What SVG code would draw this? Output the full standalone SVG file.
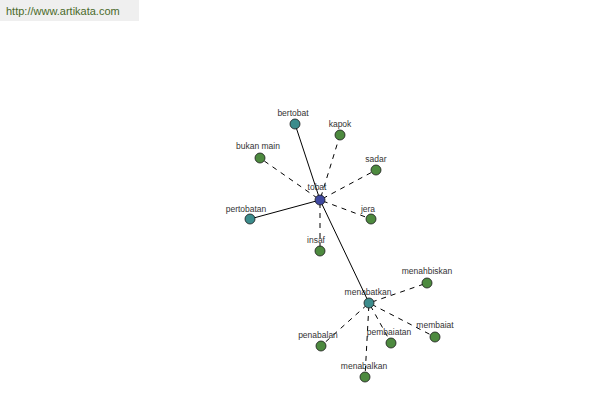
<svg xmlns="http://www.w3.org/2000/svg" width="600" height="400" viewBox="0 0 600 400">
<style>
.e{stroke:#000;stroke-width:1;fill:none}
.d{stroke-dasharray:5 5;stroke-dashoffset:-3}
.n{stroke:#1a1a1a;stroke-width:0.8}
.b{fill:#3e48a0}
.t{fill:#3c8c8c}
.g{fill:#4d8a3f}
text{font-family:"Liberation Sans",Arial,sans-serif;font-size:8.5px;fill:#333;text-anchor:middle}
</style>
<rect x="0" y="0" width="139" height="21" fill="#efefef"/>
<text x="6" y="15" style="text-anchor:start;font-size:11px;fill:#4a6a2a">http://www.artikata.com</text>
<g id="connectors">
<line class="e" x1="320" y1="200" x2="295" y2="124"/>
<line class="e" x1="320" y1="200" x2="250" y2="219"/>
<line class="e" x1="320" y1="200" x2="369" y2="303"/>
<line class="e d" x1="320" y1="200" x2="340" y2="135"/>
<line class="e d" x1="320" y1="200" x2="260" y2="158"/>
<line class="e d" x1="320" y1="200" x2="376" y2="170"/>
<line class="e d" x1="320" y1="200" x2="371" y2="219"/>
<line class="e d" x1="320" y1="200" x2="320" y2="251"/>
<line class="e d" x1="369" y1="303" x2="427" y2="283"/>
<line class="e d" x1="369" y1="303" x2="321" y2="346"/>
<line class="e d" x1="369" y1="303" x2="391" y2="343"/>
<line class="e d" x1="369" y1="303" x2="435" y2="337"/>
<line class="e d" x1="369" y1="303" x2="365" y2="377"/>
</g>
<g id="tobat"><circle class="n b" cx="320" cy="200" r="5"/><text x="317" y="190">tobat</text></g>
<g id="bertobat"><circle class="n t" cx="295" cy="124" r="5"/><text x="293" y="116">bertobat</text></g>
<g id="kapok"><circle class="n g" cx="340" cy="135" r="5"/><text x="340" y="127">kapok</text></g>
<g id="bukan-main"><circle class="n g" cx="260" cy="158" r="5"/><text x="258" y="149">bukan main</text></g>
<g id="sadar"><circle class="n g" cx="376" cy="170" r="5"/><text x="376" y="162">sadar</text></g>
<g id="pertobatan"><circle class="n t" cx="250" cy="219" r="5"/><text x="246" y="212">pertobatan</text></g>
<g id="jera"><circle class="n g" cx="371" cy="219" r="5"/><text x="368" y="212">jera</text></g>
<g id="insaf"><circle class="n g" cx="320" cy="251" r="5"/><text x="316" y="243">insaf</text></g>
<g id="menabatkan"><circle class="n t" cx="369" cy="303" r="5"/><text x="368" y="295">menabatkan</text></g>
<g id="menahbiskan"><circle class="n g" cx="427" cy="283" r="5"/><text x="427" y="274">menahbiskan</text></g>
<g id="penabalan"><circle class="n g" cx="321" cy="346" r="5"/><text x="318" y="338">penabalan</text></g>
<g id="pembaiatan"><circle class="n g" cx="391" cy="343" r="5"/><text x="389" y="335">pembaiatan</text></g>
<g id="membaiat"><circle class="n g" cx="435" cy="337" r="5"/><text x="435" y="328">membaiat</text></g>
<g id="menabalkan"><circle class="n g" cx="365" cy="377" r="5"/><text x="364" y="369">menabalkan</text></g>
</svg>
